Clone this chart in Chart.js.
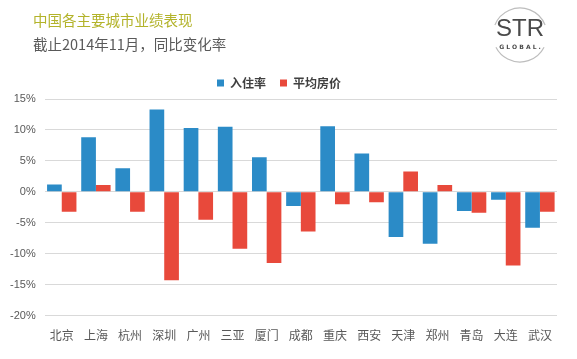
<!DOCTYPE html>
<html>
<head>
<meta charset="utf-8">
<script src="https://cdn.jsdelivr.net/npm/chart.js@4"></script>
<style>
  body { margin: 0; background: #fff; }
  #wrap { position: relative; width: 577px; height: 359px; }
  #chart { position: absolute; left: 0; top: 0; }
  .title { position: absolute; left: 33px; top: 9px; font: 14.5px "Noto Sans CJK SC"; color: #b3b32a; }
  .subtitle { position: absolute; left: 33px; top: 33px; font: 14.5px "Noto Sans CJK SC"; color: #595959; }
</style>
</head>
<body>
<div id="wrap">
  <canvas id="chart" width="577" height="359"></canvas>
  <div class="title">中国各主要城市业绩表现</div>
  <div class="subtitle">截止2014年11月，同比变化率</div>
</div>
<script>
const cities = ['北京', '上海', '杭州', '深圳', '广州', '三亚', '厦门', '成都', '重庆', '西安', '天津', '郑州', '青岛', '大连', '武汉'];
const occupancy = [1.2, 8.8, 3.8, 13.3, 10.3, 10.5, 5.6, -2.3, 10.6, 6.2, -7.3, -8.4, -3.1, -1.3, -5.8];
const avg_rate = [-3.2, 1.1, -3.2, -14.3, -4.5, -9.2, -11.5, -6.4, -2.0, -1.7, 3.3, 1.1, -3.4, -11.9, -3.2];
const y_ticks = [-20, -15, -10, -5, 0, 5, 10, 15];

const cjk = '"Noto Sans CJK SC", "Liberation Sans", sans-serif';

// STR GLOBAL logo in the top right corner
const logo = {
  id: 'logo',
  afterDraw(chart) {
    const c = chart.ctx;
    const cx = 520, cy = 35, r = 27;
    c.save();
    c.strokeStyle = '#bdbdbd';
    c.lineWidth = 1.2;
    c.beginPath();
    c.arc(cx, cy, r, Math.PI * 1.12, Math.PI * 1.88);
    c.stroke();
    c.beginPath();
    c.arc(cx, cy, r, Math.PI * 0.15, Math.PI * 0.85);
    c.stroke();
    c.fillStyle = '#4a4a4a';
    c.textAlign = 'center';
    c.textBaseline = 'middle';
    c.font = '24px "Liberation Sans"';
    c.fillText('STR', cx, cy - 6);
    c.font = 'bold 6px "DejaVu Sans"';
    c.fillText('G L O B A L .', cx, cy + 12);
    c.restore();
  }
};

new Chart(document.getElementById('chart'), {
  type: 'bar',
  data: {
    labels: cities,
    datasets: [
      { label: '入住率', data: occupancy, backgroundColor: '#2b8bc7' },
      { label: '平均房价', data: avg_rate, backgroundColor: '#e8493b' }
    ]
  },
  options: {
    responsive: false,
    animation: false,
    layout: { padding: { top: 63, right: 20, left: 1, bottom: 11 } },
    datasets: { bar: { categoryPercentage: 0.86, barPercentage: 1.0 } },
    plugins: {
      tooltip: { enabled: false },
      legend: {
        position: 'top',
        labels: {
          boxWidth: 7, boxHeight: 7, padding: 14,
          color: '#404040',
          font: { family: cjk, size: 12, weight: 'bold' }
        }
      }
    },
    scales: {
      x: {
        grid: { display: false },
        border: { display: false },
        ticks: { color: '#595959', font: { family: cjk, size: 12 }, padding: 5 }
      },
      y: {
        min: -20, max: 15,
        afterBuildTicks: (axis) => { axis.ticks = y_ticks.map(v => ({ value: v })); },
        grid: { color: '#d9d9d9', drawTicks: false },
        border: { display: false },
        ticks: {
          color: '#595959', padding: 9,
          font: { family: '"Liberation Sans", sans-serif', size: 11 },
          callback: (v) => v + '%'
        }
      }
    }
  },
  plugins: [logo]
});
</script>
</body>
</html>
